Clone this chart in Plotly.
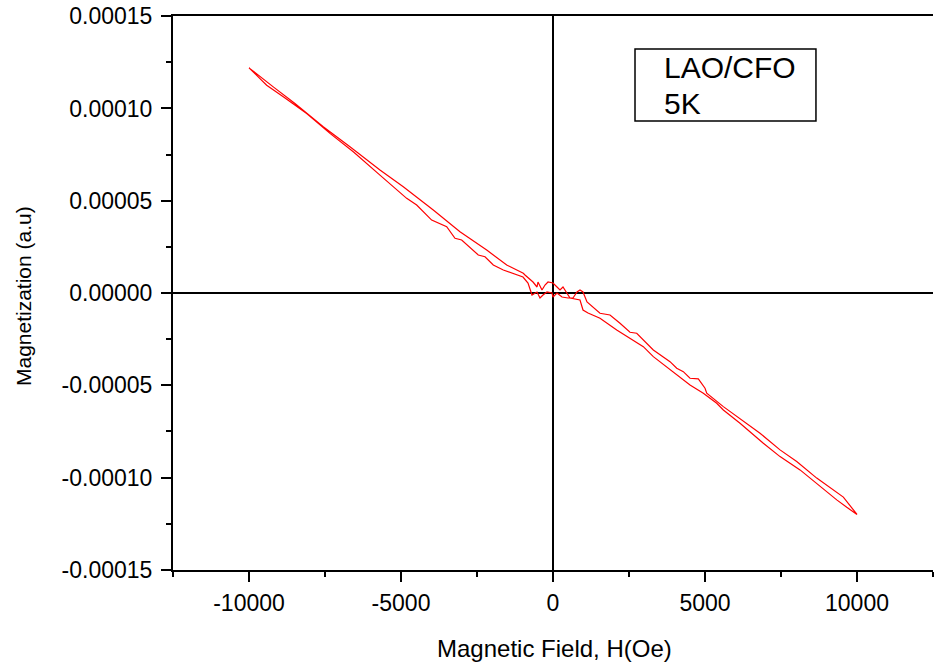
import plotly.graph_objects as go

# Branch 1 (from -10000 Oe to +10000 Oe)
h_branch1 = [-10000, -9540, -9202, -8488, -7557, -6679, -5692, -4925, -3938, -3060,
             -2181, -1523, -977, -921, -658, -526, -494, -362, -263, -164,
             0, 132, 230, 329, 461, 559, 888, 987, 1152, 1546,
             2096, 2533, 2971, 3300, 3958, 4507, 4945, 5386, 5603, 6152,
             6919, 7468, 8126, 8784, 9334, 9663, 10000]
m_branch1 = [12.20e-5, 11.59e-5, 11.17e-5, 10.27e-5, 9.005e-5, 7.92e-5, 6.66e-5, 5.756e-5, 4.494e-5, 3.319e-5,
             2.328e-5, 1.516e-5, 1.067e-5, 0.975e-5, 0.596e-5, 0.325e-5, 0.596e-5, 0.162e-5, 0.433e-5, 0.596e-5,
             0.542e-5, 0.325e-5, 0.162e-5, 0.325e-5, 0.0, -0.271e-5, -0.379e-5, -0.921e-5, -1.083e-5, -1.370e-5,
             -2.004e-5, -2.453e-5, -2.908e-5, -3.45e-5, -4.262e-5, -4.982e-5, -5.431e-5, -5.973e-5, -6.336e-5, -7.056e-5,
             -8.139e-5, -8.865e-5, -9.585e-5, -10.49e-5, -11.21e-5, -11.61e-5, -12.0e-5]

# Branch 2 (from +10000 Oe back to -10000 Oe)
h_branch2 = [10000, 9551, 8675, 8017, 7468, 6810, 5932, 5603, 5057, 5001,
             4780, 4507, 4287, 4070, 3849, 3300, 2754, 2533, 2204, 1875,
             1546, 1316, 1119, 987, 888, 790, 658, 494, 296, 132,
             0, -33, -197, -329, -428, -526, -625, -691, -822, -987,
             -1635, -1964, -2237, -2458, -3004, -3224, -3497, -3991, -4484, -4813,
             -5692, -6570, -7337, -8103, -8873, -9419, -10000]
m_branch2 = [-12.0e-5, -11.06e-5, -10.03e-5, -9.135e-5, -8.501e-5, -7.597e-5, -6.514e-5, -6.157e-5, -5.431e-5, -5.161e-5,
             -4.657e-5, -4.619e-5, -4.262e-5, -4.077e-5, -3.72e-5, -3.087e-5, -2.182e-5, -2.128e-5, -1.641e-5, -1.191e-5,
             -1.099e-5, -0.758e-5, -0.487e-5, 0.054e-5, 0.162e-5, 0.054e-5, -0.271e-5, -0.271e-5, -0.217e-5, 0.0,
             -0.217e-5, 0.0, 0.054e-5, -0.108e-5, -0.271e-5, 0.054e-5, -0.054e-5, -0.108e-5, 0.542e-5, 0.866e-5,
             1.245e-5, 1.516e-5, 1.966e-5, 2.058e-5, 2.87e-5, 2.962e-5, 3.59e-5, 3.953e-5, 4.765e-5, 5.128e-5,
             6.39e-5, 7.651e-5, 8.648e-5, 9.731e-5, 10.63e-5, 11.26e-5, 12.20e-5]

x_tick_vals = [-10000, -5000, 0, 5000, 10000]
x_tick_text = ["-10000", "-5000", "0", "5000", "10000"]
y_tick_vals = [-0.00015, -0.00010, -0.00005, 0.0, 0.00005, 0.00010, 0.00015]
y_tick_text = ["-0.00015", "-0.00010", "-0.00005", "0.00000", "0.00005", "0.00010", "0.00015"]

legend_lines = ["LAO/CFO", "5K"]
x_title = "Magnetic Field, H(Oe)"
y_title = "Magnetization (a.u)"

FONT = "Liberation Sans, Arial, sans-serif"

fig = go.Figure()
fig.add_trace(go.Scatter(
    x=h_branch1 + h_branch2[1:],
    y=m_branch1 + m_branch2[1:],
    mode="lines",
    line=dict(color="#ff0000", width=1.2),
    showlegend=False,
    hoverinfo="skip",
))

fig.update_layout(
    width=935, height=662,
    margin=dict(l=173, r=2, t=16, b=92),
    paper_bgcolor="white", plot_bgcolor="white",
    font=dict(family=FONT, color="black", size=23),
    showlegend=False,
)

fig.update_xaxes(
    range=[-12500, 12500],
    tickmode="array", tickvals=x_tick_vals, ticktext=x_tick_text,
    ticks="outside", ticklen=10, tickwidth=2, tickcolor="black",
    minor=dict(dtick=2500, tick0=0, ticks="outside", ticklen=5, tickwidth=2, tickcolor="black"),
    showline=True, linecolor="black", linewidth=2, mirror=True,
    showgrid=False,
    zeroline=True, zerolinecolor="black", zerolinewidth=2,
    tickfont=dict(size=23, family=FONT, color="black"),
    ticklabelstandoff=1,
)
fig.update_yaxes(
    range=[-0.0001501, 0.0001501],
    tickmode="array", tickvals=y_tick_vals, ticktext=y_tick_text,
    ticks="outside", ticklen=10, tickwidth=2, tickcolor="black",
    minor=dict(dtick=0.000025, tick0=0, ticks="outside", ticklen=5, tickwidth=2, tickcolor="black"),
    showline=True, linecolor="black", linewidth=2, mirror=False,
    showgrid=False,
    zeroline=True, zerolinecolor="black", zerolinewidth=2,
    tickfont=dict(size=23, family=FONT, color="black"),
    ticklabelstandoff=4,
)

# legend box
fig.add_shape(type="rect", xref="paper", yref="paper",
              x0=0.6079, x1=0.846, y0=0.8105, y1=0.9404,
              line=dict(color="black", width=1.5), fillcolor="white", layer="above")
fig.add_annotation(text=legend_lines[0], xref="paper", yref="paper",
                   x=0.6434, y=0.907, xanchor="left", yanchor="middle",
                   showarrow=False, font=dict(size=30, family=FONT, color="black"))
fig.add_annotation(text=legend_lines[1], xref="paper", yref="paper",
                   x=0.6434, y=0.842, xanchor="left", yanchor="middle",
                   showarrow=False, font=dict(size=30, family=FONT, color="black"))

# axis titles
fig.add_annotation(text=x_title, xref="paper", yref="paper",
                   x=(554 - 173) / 760, y=-0.1408, xanchor="center", yanchor="middle",
                   showarrow=False, font=dict(size=24, family=FONT, color="black"))
fig.add_annotation(text=y_title, xref="paper", yref="paper",
                   x=-0.196, y=0.4946, xanchor="center", yanchor="middle", textangle=-90,
                   showarrow=False, font=dict(size=21, family=FONT, color="black"))

# remove the default page margin so the figure fills the window exactly
fig.write_html("out.html",
               config={"displayModeBar": False},
               post_script="document.body.style.margin='0';document.body.style.overflow='hidden';")
